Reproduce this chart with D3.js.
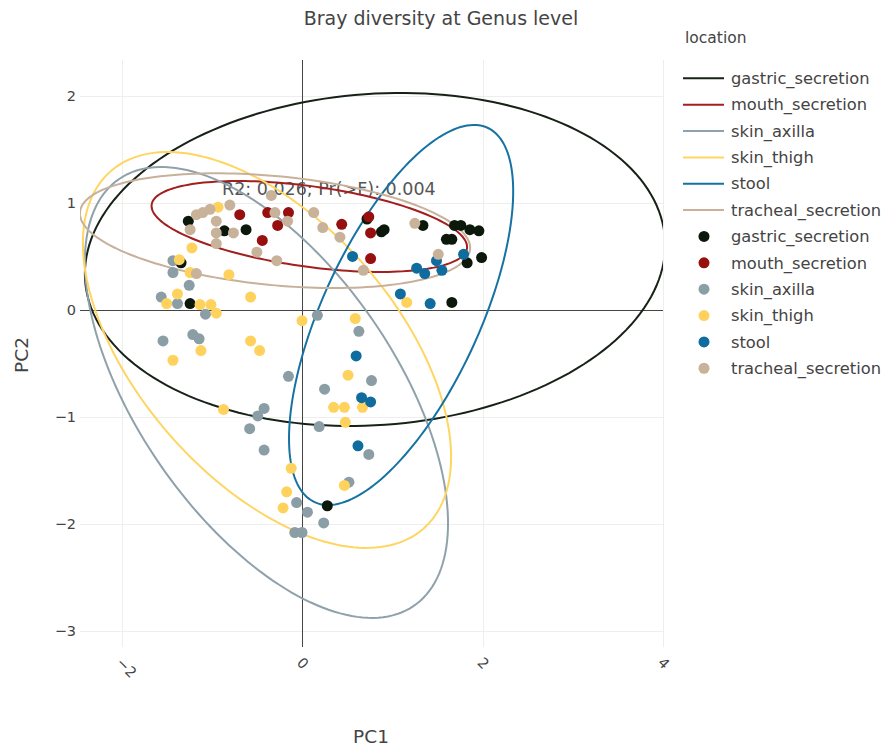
<!DOCTYPE html>
<html>
<head>
<meta charset="utf-8">
<script src="https://cdn.jsdelivr.net/npm/d3@7"></script>
<style>
  html, body { margin: 0; padding: 0; background: #fff; }
  svg { display: block; font-family: "DejaVu Sans", Verdana, sans-serif; }
</style>
</head>
<body>
<svg id="chart" width="886" height="747"></svg>
<script>
// ---------------- DATA ----------------
const locations = ["gastric_secretion", "mouth_secretion", "skin_axilla", "skin_thigh", "stool", "tracheal_secretion"];
const xTicks = [-2, 0, 2, 4];
const yTicks = [2, 1, 0, -1, -2, -3];
const titleText = "Bray diversity at Genus level";
const annotationText = "R2: 0.026; Pr(>F): 0.004";

// PC1 / PC2 coordinates per location
const gastricPC1 = [-1.26, -1.34, -0.86, -0.62, -1.24, 0.72, 0.88, 0.91, 1.34, 1.69, 1.76, 1.86, 1.96, 1.60, 1.66, 1.99, 1.83, 1.66, 0.28];
const gastricPC2 = [0.83, 0.44, 0.74, 0.75, 0.06, 0.85, 0.73, 0.75, 0.79, 0.79, 0.79, 0.75, 0.74, 0.66, 0.66, 0.49, 0.44, 0.07, -1.83];

const mouthPC1 = [-0.69, -0.38, -0.15, -0.27, -0.44, 0.44, 0.74, 0.76, 0.76];
const mouthPC2 = [0.89, 0.91, 0.91, 0.79, 0.65, 0.80, 0.87, 0.72, 0.48];

const axillaPC1 = [-1.43, -1.43, -1.25, -1.56, -1.38, -1.07, -1.54, -1.21, -1.14, 0.17, 0.63, -0.15, 0.25, 0.77, -0.42, -0.49, -0.58, -0.42, 0.19, 0.74, 0.52, -0.06, 0.06, 0.24, -0.08, 0.00];
const axillaPC2 = [0.46, 0.35, 0.23, 0.12, 0.06, -0.04, -0.29, -0.23, -0.27, -0.05, -0.20, -0.62, -0.74, -0.66, -0.92, -0.99, -1.11, -1.31, -1.09, -1.35, -1.61, -1.80, -1.89, -1.99, -2.08, -2.08];

const thighPC1 = [-0.93, -1.22, -1.36, -1.24, -0.81, -1.38, -1.50, -1.13, -1.01, -0.95, -0.57, 0.00, 0.59, -0.57, -0.47, -1.12, -1.43, -0.87, 0.51, 0.35, 0.47, 0.67, 0.48, -0.12, -0.17, -0.21, 0.47, 1.16];
const thighPC2 = [0.96, 0.58, 0.47, 0.35, 0.33, 0.15, 0.06, 0.05, 0.05, -0.03, 0.12, -0.10, -0.08, -0.29, -0.38, -0.38, -0.47, -0.93, -0.61, -0.91, -0.91, -0.91, -1.05, -1.48, -1.70, -1.85, -1.64, 0.07];

const stoolPC1 = [0.56, 1.27, 1.36, 1.49, 1.55, 1.79, 1.09, 1.42, 0.60, 0.66, 0.76, 0.62];
const stoolPC2 = [0.50, 0.39, 0.34, 0.46, 0.37, 0.52, 0.15, 0.06, -0.43, -0.82, -0.86, -1.27];

const trachealPC1 = [-1.17, -1.10, -1.02, -0.80, -0.95, -1.24, -0.95, -0.76, -0.95, -0.50, -0.28, -0.34, -0.30, -0.16, -1.17, 0.13, 0.23, 0.42, 1.25, 1.51, 0.68];
const trachealPC2 = [0.89, 0.91, 0.94, 0.98, 0.83, 0.75, 0.72, 0.72, 0.62, 0.54, 0.46, 1.07, 0.91, 0.83, 0.34, 0.91, 0.77, 0.68, 0.81, 0.52, 0.37];

// Confidence ellipses (data units): centre, half-extent in PC1 / PC2, tilt (cos of phase shift)
const ellipseCx   = [0.809, 0.081, -0.394, -0.388, 1.098, -0.299];
const ellipseCy   = [0.472, 0.780, -0.771, -0.374, -0.047, 0.741];
const ellipseRx   = [3.215, 1.748, 2.012, 2.040, 1.242, 2.162];
const ellipseRy   = [1.556, 0.425, 2.107, 1.850, 1.776, 0.536];
const ellipseTilt = [0.087, -0.45, -0.58, -0.54, 0.65, -0.30];

// ---------------- STYLE ----------------
const pointColors = ["#0c180c", "#95100f", "#8b9da5", "#fed25c", "#106c9e", "#c9b29a"];
const lineColors  = ["#172217", "#a31f1f", "#8fa2ab", "#ffd562", "#1672a2", "#c8b19a"];

const svg = d3.select("#chart");
const pLeft = 80, pRight = 663, pTop = 60, pBottom = 647;

const x = d3.scaleLinear().domain([-2.46, 4.0]).range([pLeft, pRight]);
const y = d3.scaleLinear().domain([-3.15, 2.336]).range([pBottom, pTop]);
const crisp = v => Math.round(v) + 0.5;

// clip
svg.append("defs").append("clipPath").attr("id", "plotclip")
  .append("rect").attr("x", pLeft).attr("y", pTop).attr("width", pRight - pLeft).attr("height", pBottom - pTop);

// grid
const gx = svg.append("g").attr("transform", `translate(0,${pBottom})`)
  .call(d3.axisBottom(x).tickValues(xTicks.filter(d => d !== 0)).tickSize(-(pBottom - pTop)).tickFormat(""));
gx.select(".domain").remove();
gx.selectAll(".tick").attr("transform", d => `translate(${crisp(x(d))},0)`);
gx.selectAll("line").attr("stroke", "#eeeeee").attr("stroke-width", 1);

const gy = svg.append("g").attr("transform", `translate(${pLeft},0)`)
  .call(d3.axisLeft(y).tickValues(yTicks.filter(d => d !== 0)).tickSize(-(pRight - pLeft)).tickFormat(""));
gy.select(".domain").remove();
gy.selectAll(".tick").attr("transform", d => `translate(0,${crisp(y(d))})`);
gy.selectAll("line").attr("stroke", "#eeeeee").attr("stroke-width", 1);

// zero lines
svg.append("line").attr("x1", crisp(x(0))).attr("x2", crisp(x(0))).attr("y1", pTop).attr("y2", pBottom)
  .attr("stroke", "#444").attr("stroke-width", 1);
svg.append("line").attr("x1", pLeft).attr("x2", pRight).attr("y1", crisp(y(0))).attr("y2", crisp(y(0)))
  .attr("stroke", "#444").attr("stroke-width", 1);

// tick labels
const yl = svg.append("g").attr("transform", `translate(${pLeft},0)`)
  .call(d3.axisLeft(y).tickValues(yTicks).tickSize(0).tickPadding(4).tickFormat(d3.format("d")));
yl.select(".domain").remove();
yl.selectAll("text").attr("fill", "#444").style("font-size", "14.5px").style("font-family", "DejaVu Sans, sans-serif");

const xl = svg.append("g").attr("transform", `translate(0,${pBottom})`)
  .call(d3.axisBottom(x).tickValues(xTicks).tickSize(0).tickFormat(d3.format("d")));
xl.select(".domain").remove();
xl.selectAll("text")
  .attr("fill", "#444").style("font-size", "14.5px").style("font-family", "DejaVu Sans, sans-serif")
  .attr("text-anchor", "start").attr("x", 0).attr("y", 0).attr("dy", "0.35em")
  .attr("transform", "translate(-3,13) rotate(45)");

// annotation
svg.append("text").attr("x", 222).attr("y", 189).attr("dy", "0.35em")
  .attr("fill", "#555").style("font-size", "17.5px").text(annotationText);

// ellipses
const plot = svg.append("g").attr("clip-path", "url(#plotclip)");
const ts = d3.range(0, 361, 2).map(d => d * Math.PI / 180);
const line = d3.line().x(d => x(d[0])).y(d => y(d[1])).curve(d3.curveLinearClosed);
locations.forEach((loc, i) => {
  const delta = Math.acos(ellipseTilt[i]);
  const pts = ts.map(t => [ellipseCx[i] + ellipseRx[i] * Math.cos(t), ellipseCy[i] + ellipseRy[i] * Math.cos(t - delta)]);
  plot.append("path").attr("d", line(pts)).attr("fill", "none")
    .attr("stroke", lineColors[i]).attr("stroke-width", 2);
});

// points
const seriesX = [gastricPC1, mouthPC1, axillaPC1, thighPC1, stoolPC1, trachealPC1];
const seriesY = [gastricPC2, mouthPC2, axillaPC2, thighPC2, stoolPC2, trachealPC2];
locations.forEach((loc, i) => {
  plot.append("g").selectAll("circle").data(seriesX[i].map((v, k) => [v, seriesY[i][k]]))
    .join("circle").attr("cx", d => x(d[0])).attr("cy", d => y(d[1])).attr("r", 5.5)
    .attr("fill", pointColors[i]);
});

// title
svg.append("text").attr("x", 441).attr("y", 18).attr("dy", "0.35em").attr("text-anchor", "middle")
  .attr("fill", "#444").style("font-size", "19px").text(titleText);

// axis titles
svg.append("text").attr("x", 371).attr("y", 737).attr("dy", "0.35em").attr("text-anchor", "middle")
  .attr("fill", "#444").style("font-size", "18.5px").text("PC1");
svg.append("text").attr("transform", "translate(22,355) rotate(-90)").attr("dy", "0.35em").attr("text-anchor", "middle")
  .attr("fill", "#444").style("font-size", "18.5px").text("PC2");

// legend
const lg = svg.append("g");
lg.append("text").attr("x", 685).attr("y", 38).attr("dy", "0.35em").attr("fill", "#444")
  .style("font-size", "15.5px").text("location");
const rowY = k => 78.3 + k * 26.36;
locations.forEach((loc, i) => {
  lg.append("line").attr("x1", 683).attr("x2", 724).attr("y1", rowY(i)).attr("y2", rowY(i))
    .attr("stroke", lineColors[i]).attr("stroke-width", 2);
  lg.append("text").attr("x", 731).attr("y", rowY(i)).attr("dy", "0.35em").attr("fill", "#444")
    .style("font-size", "16.3px").text(loc);
});
locations.forEach((loc, i) => {
  const k = i + 6;
  lg.append("circle").attr("cx", 704).attr("cy", rowY(k)).attr("r", 5.5).attr("fill", pointColors[i]);
  lg.append("text").attr("x", 731).attr("y", rowY(k)).attr("dy", "0.35em").attr("fill", "#444")
    .style("font-size", "16.3px").text(loc);
});
</script>
</body>
</html>
